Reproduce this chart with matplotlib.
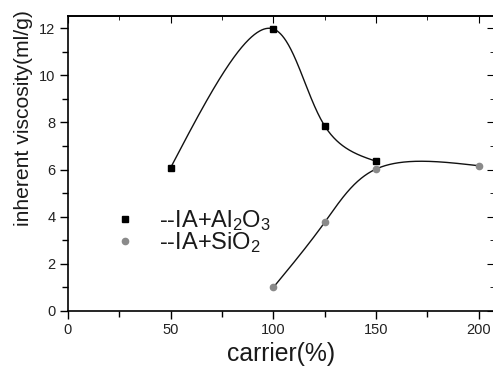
import numpy as np
import matplotlib
matplotlib.use("Agg")
import matplotlib.pyplot as plt
from matplotlib.ticker import MultipleLocator

plt.rcParams['font.family'] = ['Liberation Sans', 'DejaVu Sans']
plt.rcParams['mathtext.fontset'] = 'custom'
plt.rcParams['mathtext.rm'] = 'Liberation Sans'

# data
al_x = [50, 100, 125, 150]
al_y = [6.08, 11.96, 7.85, 6.35]
si_x = [100, 125, 150, 200]
si_y = [1.0, 3.76, 6.02, 6.16]
al_label = r'--IA+Al$\mathregular{_2}$O$\mathregular{_3}$'
si_label = r'--IA+SiO$\mathregular{_2}$'
xlabel = 'carrier(%)'
ylabel = 'inherent viscosity(ml/g)'


def natural_coeffs(t, y):
    m = len(t)
    h = np.diff(t)
    A = np.zeros((m, m))
    b = np.zeros(m)
    A[0, 0] = 1
    A[-1, -1] = 1
    for i in range(1, m - 1):
        A[i, i - 1] = h[i - 1]
        A[i, i] = 2 * (h[i - 1] + h[i])
        A[i, i + 1] = h[i]
        b[i] = 3 * ((y[i + 1] - y[i]) / h[i] - (y[i] - y[i - 1]) / h[i - 1])
    c = np.linalg.solve(A, b)
    return c


def eval_spline(t, y, c, ts):
    m = len(t)
    h = np.diff(t)
    out = np.empty_like(ts)
    for k, tv in enumerate(ts):
        i = min(np.searchsorted(t, tv, side='right') - 1, m - 2)
        dt = tv - t[i]
        bi = (y[i + 1] - y[i]) / h[i] - h[i] * (2 * c[i] + c[i + 1]) / 3
        di = (c[i + 1] - c[i]) / (3 * h[i])
        out[k] = y[i] + bi * dt + c[i] * dt ** 2 + di * dt ** 3
    return out


def parametric_spline(ax, x, y, n=400, alpha=0.5):
    # parametric spline in display space (centripetal parameterisation)
    pts = ax.transData.transform(np.column_stack([x, y]))
    px, py = pts[:, 0], pts[:, 1]
    d = np.hypot(np.diff(px), np.diff(py)) ** alpha
    t = np.concatenate([[0], np.cumsum(d)])
    ts = np.linspace(0, t[-1], n)
    sx = eval_spline(t, px, natural_coeffs(t, px), ts)
    sy = eval_spline(t, py, natural_coeffs(t, py), ts)
    data = ax.transData.inverted().transform(np.column_stack([sx, sy]))
    return data[:, 0], data[:, 1]


fig = plt.figure(figsize=(4.93, 3.72), dpi=100)
W, H = 493, 372
left, right, top, bottom = 68, 494, 16, 311
ax = fig.add_axes([left / W, 1 - bottom / H, (right - left) / W, (bottom - top) / H])
ax.set_xlim(0, (right - left) / 2.0535)
ax.set_ylim(0, 12.51)

sx, sy = parametric_spline(ax, al_x, al_y)
ax.plot(sx, sy, color='#111111', lw=1.0, zorder=2)
sx, sy = parametric_spline(ax, si_x, si_y)
ax.plot(sx, sy, color='#111111', lw=1.0, zorder=2)

ax.plot(al_x, al_y, linestyle='none', marker='s', ms=5, color='black',
        label=al_label, zorder=3)
ax.plot(si_x, si_y, linestyle='none', marker='o', ms=4.5, color='#8a8a8a',
        label=si_label, zorder=3)

ax.xaxis.set_major_locator(MultipleLocator(50))
ax.xaxis.set_minor_locator(MultipleLocator(25))
ax.yaxis.set_major_locator(MultipleLocator(2))
ax.yaxis.set_minor_locator(MultipleLocator(1))

ax.tick_params(which='both', direction='out', top=False, right=False,
               labelsize=10.5, labelcolor='#222222', width=1.0)
ax.tick_params(which='major', length=6, pad=3)
ax.tick_params(which='minor', length=4)
sec_x = ax.secondary_xaxis('top')
sec_x.xaxis.set_major_locator(MultipleLocator(50))
sec_x.xaxis.set_minor_locator(MultipleLocator(25))
sec_x.tick_params(which='both', direction='in', labeltop=False)
sec_x.tick_params(which='major', length=5)
sec_x.tick_params(which='minor', length=3)
sec_y = ax.secondary_yaxis('right')
sec_y.yaxis.set_major_locator(MultipleLocator(2))
sec_y.yaxis.set_minor_locator(MultipleLocator(1))
sec_y.tick_params(which='both', direction='in', labelright=False)
sec_y.tick_params(which='major', length=5)
sec_y.tick_params(which='minor', length=3)
sec_y.spines['right'].set_visible(False)
ax.spines['right'].set_visible(False)

for s in ax.spines.values():
    s.set_linewidth(1.2)
sec_x.spines['top'].set_linewidth(1.2)

ax.set_xlabel(xlabel, fontsize=17.8, color='#1a1a1a', labelpad=3)
ax.set_ylabel(ylabel, fontsize=15.2, color='#1a1a1a')
ax.yaxis.set_label_coords((33.5 - left) / (right - left), (311 - 118) / 295)

leg = ax.legend(loc='upper left', bbox_to_anchor=(113 / W, 1 - 208 / H),
                bbox_transform=fig.transFigure, frameon=False, fontsize=17,
                handlelength=1.0, handletextpad=0.95, labelspacing=-0.1,
                borderpad=0, borderaxespad=0)
for t in leg.get_texts():
    t.set_color('#1a1a1a')

fig.savefig('out.png', dpi=100)
